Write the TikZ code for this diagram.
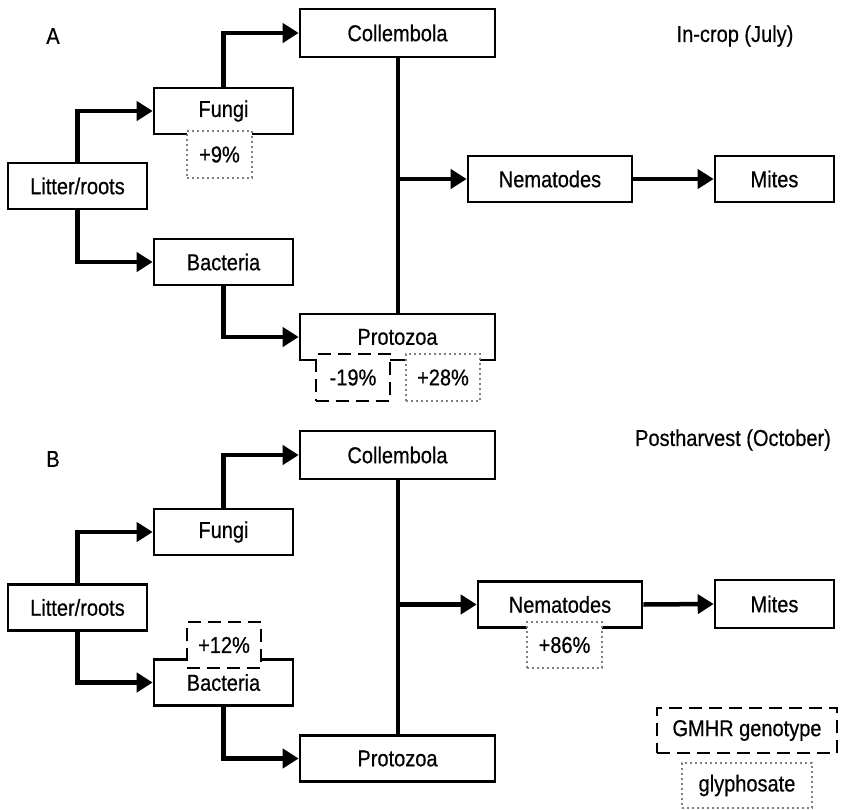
\documentclass[tikz,border=0pt]{standalone}
\usepackage{fontspec}
\setmainfont{Liberation Sans}[FakeStretch=0.87, FakeBold=0.5]
\usetikzlibrary{arrows.meta}
\definecolor{InkBlack}{HTML}{000000}
\definecolor{DotGrey}{HTML}{808080}

\tikzset{
  pool/.style={draw=InkBlack, line width=2.6pt, fill=white, inner sep=0pt,
               minimum height=46pt, font=\fontsize{23}{27}\selectfont},
  flow/.style={draw=InkBlack, line width=4.5pt, -{Triangle[length=16pt,width=19pt]}},
  link/.style={draw=InkBlack, line width=4pt},
  gmtag/.style={draw=InkBlack, line width=2.6pt, dash pattern=on 13pt off 7pt,
                fill=white, inner sep=0pt, minimum width=74pt, minimum height=46pt,
                font=\fontsize{23}{27}\selectfont},
  glytag/.style={draw=DotGrey, line width=1.8pt, dash pattern=on 1.8pt off 3.2pt,
                 fill=white, inner sep=0pt, minimum width=74pt, minimum height=46pt,
                 font=\fontsize{23}{27}\selectfont},
  panel/.style={inner sep=0pt, font=\fontsize{23}{27}\selectfont},
}

\begin{document}
\begin{tikzpicture}[x=1pt, y=-1pt]
  \useasboundingbox (0,0) rectangle (841,809);

  % --- A: in-crop ---
  \node[panel] (labA) at (53,36) {A};
  \node[panel] (seasonA) at (735,36) {In-crop (July)};

  \node[pool, minimum width=139pt] (litA)  at (77.5,186)  {Litter/roots};
  \node[pool, minimum width=139pt] (fungA) at (223.5,111) {Fungi};
  \node[pool, minimum width=139pt] (bacA)  at (223.5,262) {Bacteria};
  \node[pool, minimum width=195pt, minimum height=48pt] (colA) at (397.5,33) {Collembola};
  \node[pool, minimum width=195pt] (protA) at (397.5,337) {Protozoa};
  \node[pool, minimum width=164pt] (nemA)  at (550,179)   {Nematodes};
  \node[pool, minimum width=119pt] (mitA)  at (774.5,179) {Mites};

  \draw[flow] (litA.north) |- (fungA.west);
  \draw[flow] (fungA.north) |- (colA.west);
  \draw[flow] (litA.south) |- (bacA.west);
  \draw[flow] (bacA.south) |- (protA.west);
  \draw[link] (colA.south) -- (protA.north);
  \coordinate (jA) at (colA.south |- nemA.west);
  \draw[flow] (jA) -- (nemA.west);
  \draw[flow] (nemA.east) -- (mitA.west);

  \node[glytag, minimum width=65pt, minimum height=47pt] (fungAgly) at (219.5,154.5) {+9\%};
  \node[gmtag, minimum height=47pt] (protAgm) at (353,377.5) {-19\%};
  \node[glytag, minimum height=47pt] (protAgly) at (443,377.5) {+28\%};

  % --- B: postharvest ---
  \node[panel] (labB) at (53,459) {B};
  \node[panel] (seasonB) at (733,440) {Postharvest (October)};

  \node[pool, minimum width=139pt] (litB)  at (77.5,607.5) {Litter/roots};
  \node[pool, minimum width=139pt] (fungB) at (223.5,532)  {Fungi};
  \node[pool, minimum width=139pt] (bacB)  at (223.5,682.5) {Bacteria};
  \node[pool, minimum width=195pt, minimum height=48pt] (colB) at (397.5,455) {Collembola};
  \node[pool, minimum width=195pt] (protB) at (397.5,758.5) {Protozoa};
  \node[pool, minimum width=164pt] (nemB)  at (560,604.5)  {Nematodes};
  \node[pool, minimum width=119pt, minimum height=48pt] (mitB) at (774.5,604) {Mites};

  \draw[flow] (litB.north) |- (fungB.west);
  \draw[flow] (fungB.north) |- (colB.west);
  \draw[flow] (litB.south) |- (bacB.west);
  \draw[flow] (bacB.south) |- (protB.west);
  \draw[link] (colB.south) -- (protB.north);
  \coordinate (jB) at (colB.south |- nemB.west);
  \draw[flow] (jB) -- (nemB.west);
  \draw[flow] (nemB.east) -- (mitB.west);

  \node[gmtag] (bacBgm) at (224,645) {+12\%};
  \node[glytag, minimum width=75pt] (nemBgly) at (564.5,645) {+86\%};

  % key
  \node[gmtag, minimum width=180pt, minimum height=45pt] (keygm) at (747,730.5) {GMHR genotype};
  \node[glytag, minimum width=130pt, minimum height=45pt] (keygly) at (747,785.5) {glyphosate};
\end{tikzpicture}
\end{document}
